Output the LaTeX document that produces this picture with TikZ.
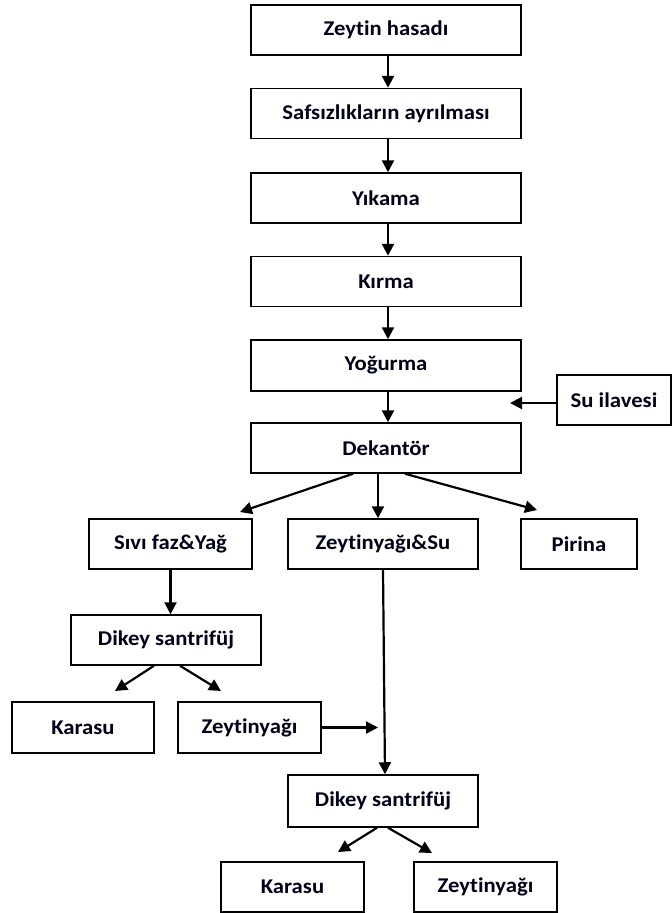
\documentclass[tikz,border=0pt]{standalone}
\usepackage{fontspec}
\setmainfont{Carlito}[FakeStretch=1.08,Ligatures={NoCommon}]
\usetikzlibrary{arrows.meta}
\begin{document}
\begin{tikzpicture}[x=1pt,y=-1pt,
  box/.style={draw, line width=1.5pt, inner sep=0pt, text=black!90!blue,
    font=\fontsize{21}{25}\selectfont\bfseries},
  arr/.style={line width=2.2pt, -{Triangle[length=12pt,width=12pt]}}]
\useasboundingbox (0,0) rectangle (672,913);
\fill[white] (0,0) rectangle (672,913);
% main column
\node[box, minimum width=270pt, minimum height=50pt] (n1) at (386,30) {Zeytin hasadı};
\node[box, minimum width=270pt, minimum height=50pt] (n2) at (386,113.5) {Safsızlıkların ayrılması};
\node[box, minimum width=270pt, minimum height=50pt] (n3) at (386,198) {Yıkama};
\node[box, minimum width=270pt, minimum height=50pt] (n4) at (386,281.5) {Kırma};
\node[box, minimum width=270pt, minimum height=51pt] (n5) at (386,365.5) {Yoğurma};
\node[box, minimum width=270pt, minimum height=50pt] (n6) at (386,448) {Dekantör};
\node[box, minimum width=114pt, minimum height=50pt] (su) at (614,400) {Su ilavesi};
% second level
\node[box, minimum width=163pt, minimum height=50pt] (sivi) at (170.5,544) {Sıvı faz\&Yağ};
\node[box, minimum width=190pt, minimum height=50pt] (zs) at (383,544) {Zeytinyağı\&Su};
\node[box, minimum width=116pt, minimum height=50pt] (pir) at (579,544) {Pirina};
% left branch
\node[box, minimum width=190pt, minimum height=50pt] (ds1) at (166,640) {Dikey santrifüj};
\node[box, minimum width=142pt, minimum height=51pt] (k1) at (83,727.5) {Karasu};
\node[box, minimum width=143pt, minimum height=51pt] (z1) at (249.5,727.5) {Zeytinyağı};
% bottom
\node[box, minimum width=190pt, minimum height=52pt] (ds2) at (383,801) {Dikey santrifüj};
\node[box, minimum width=143pt, minimum height=50pt] (k2) at (292.5,887) {Karasu};
\node[box, minimum width=143pt, minimum height=50pt] (z2) at (485.5,887) {Zeytinyağı};
% free arrow ends
\coordinate (suend) at (510,403);
\coordinate (tsivi) at (240,512);
\coordinate (tpir) at (537,510);
\coordinate (tk1) at (115,691);
\coordinate (tz1) at (221,691);
\coordinate (zjoin) at (378,727.5);
\coordinate (tk2) at (338,852);
\coordinate (tz2) at (432,853);
% connectors
\draw[arr] ([xshift=2pt]n1.south) -- ([xshift=2pt]n2.north);
\draw[arr] ([xshift=2pt]n2.south) -- ([xshift=2pt]n3.north);
\draw[arr] ([xshift=2pt]n3.south) -- ([xshift=2pt]n4.north);
\draw[arr] ([xshift=2pt]n4.south) -- ([xshift=2pt]n5.north);
\draw[arr] ([xshift=2pt]n5.south) -- ([xshift=2pt]n6.north);
\draw[arr] (su.west |- suend) -- (suend);
\draw[arr] ([xshift=-33pt]n6.south) -- (tsivi);
\draw[arr] ([xshift=-8pt]n6.south) -- ([xshift=-5pt]zs.north);
\draw[arr] ([xshift=19pt]n6.south) -- (tpir);
\draw[arr] (sivi.south) -- (sivi.south |- ds1.north);
\draw[arr] ([xshift=-12pt]ds1.south) -- (tk1);
\draw[arr] ([xshift=14pt]ds1.south) -- (tz1);
\draw[arr] (z1.east) -- (zjoin);
\draw[arr] (zs.south) -- ([xshift=2pt]ds2.north);
\draw[arr] ([xshift=-6pt]ds2.south) -- (tk2);
\draw[arr] ([xshift=5pt]ds2.south) -- (tz2);
\end{tikzpicture}
\end{document}
